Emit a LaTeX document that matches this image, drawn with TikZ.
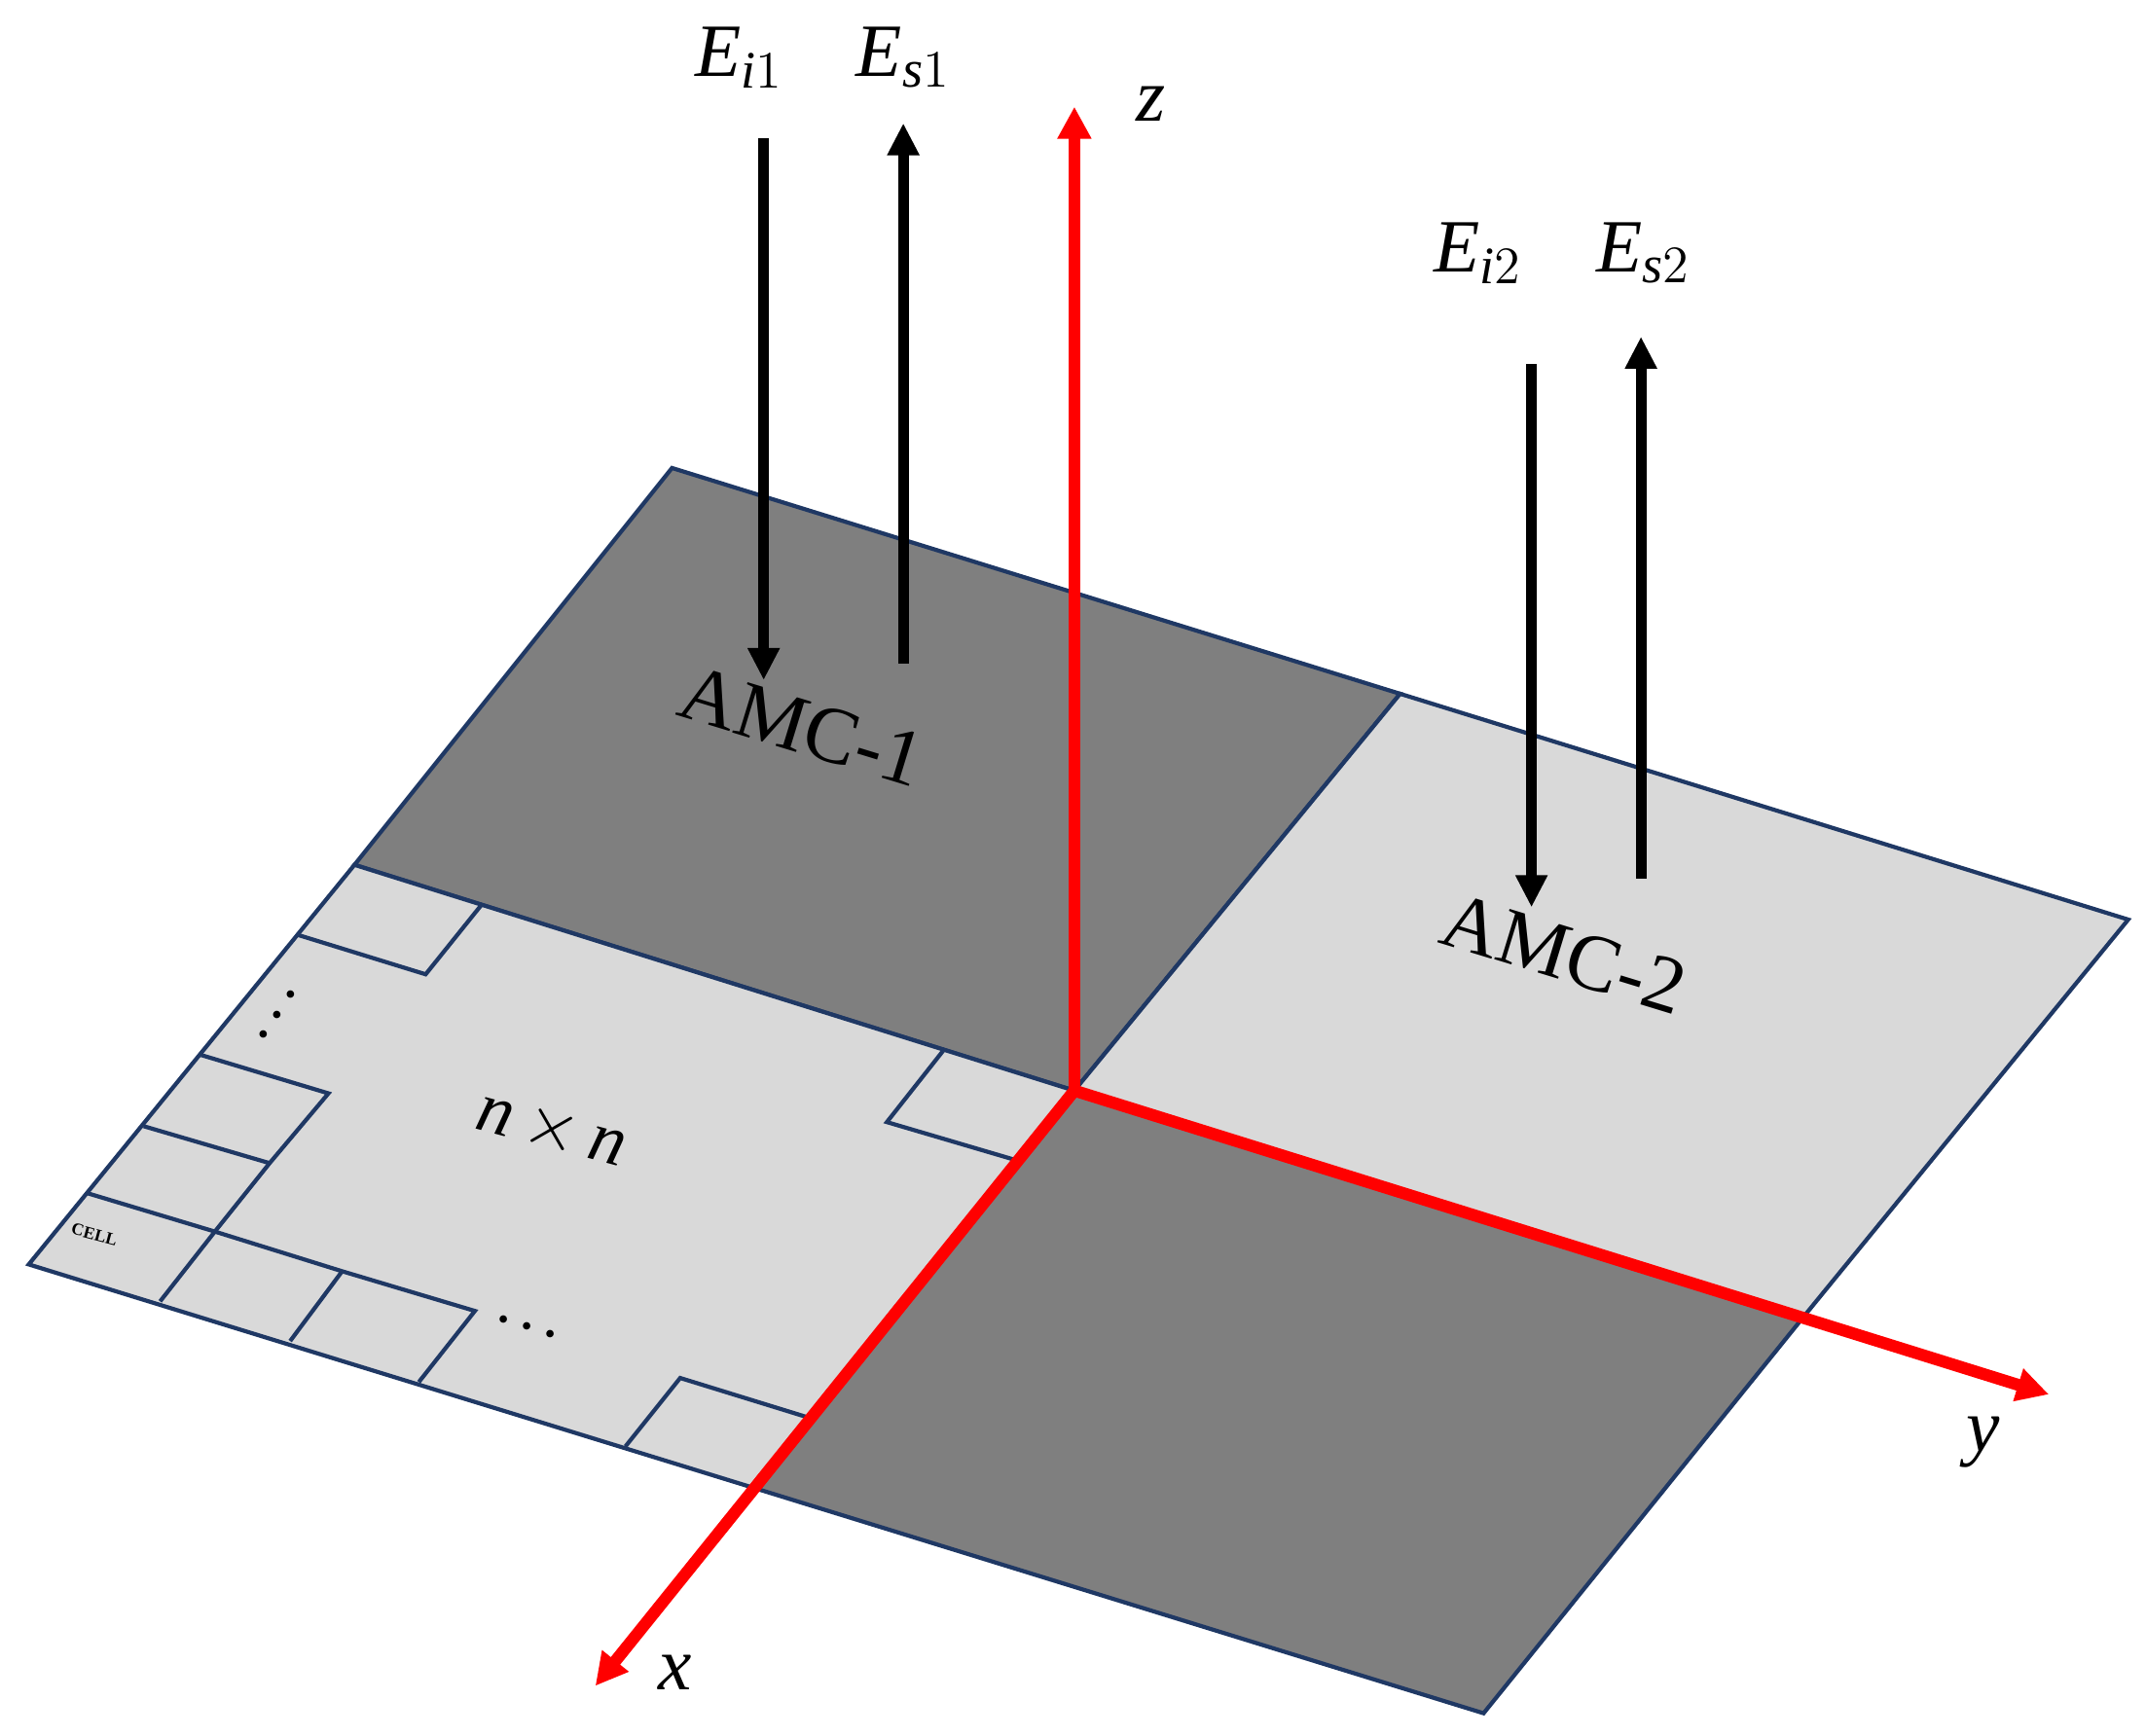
\documentclass[tikz,border=0pt]{standalone}
\usepackage{fontspec}
\usepackage{amsmath}
\usepackage{fix-cm}
\setmainfont{Liberation Serif}
\usepackage{tikz}
\usetikzlibrary{arrows.meta}
\definecolor{plateline}{HTML}{1F3864}
\definecolor{darkamc}{HTML}{7F7F7F}
\definecolor{lightamc}{HTML}{D9D9D9}

\begin{document}
\begin{tikzpicture}
	[x=0.0140625cm, y=-0.0140625cm,
	patch/.style={draw=plateline, line width=1.2pt, line join=miter},
	cellline/.style={draw=plateline, line width=1.2pt},
	axis/.style={draw=red, line width=3.5pt, -{Triangle[width=0.33cm,length=0.33cm]}},
	wave/.style={draw=black, line width=3.1pt, -{Triangle[width=0.31cm,length=0.33cm]}},
	field/.style={font=\fontsize{22}{26}\selectfont, inner sep=0pt},
	axlabel/.style={font=\fontsize{22}{26}\selectfont, inner sep=0pt},
	amc/.style={font=\fontsize{23.5}{28}\selectfont, inner sep=0pt, rotate=-17}]
	\useasboundingbox (0,0) rectangle (1568,1268);
	% plate corners
	\coordinate (top) at (491,342);
	\coordinate (right) at (1555,672);
	\coordinate (bottom) at (1084,1252);
	\coordinate (left) at (21,924);
	\coordinate (mid_t) at (1023,507);
	\coordinate (mid_r) at (1318,962);
	\coordinate (mid_b) at (553,1088);
	\coordinate (mid_l) at (259,632);
	\coordinate (o) at (785,797);
	\path[patch, fill=darkamc] (top) -- (mid_t) -- (o) -- (mid_l) -- cycle;
	\path[patch, fill=lightamc] (mid_t) -- (right) -- (mid_r) -- (o) -- cycle;
	\path[patch, fill=darkamc] (o) -- (mid_r) -- (bottom) -- (mid_b) -- cycle;
	\path[patch, fill=lightamc] (mid_l) -- (o) -- (mid_b) -- (left) -- cycle;
	% unit cells
	\coordinate (l_1) at (64,872);
	\coordinate (l_2) at (105,823);
	\coordinate (l_3) at (147,771);
	\coordinate (l_4) at (217,683);
	\coordinate (b_1) at (117,951);
	\coordinate (b_2) at (212,980);
	\coordinate (b_3) at (306,1010);
	\coordinate (b_4) at (457,1057);
	\coordinate (i_1) at (157,900);
	\coordinate (i_2) at (250,929);
	\coordinate (i_3) at (347,958);
	\coordinate (i_4) at (197,850);
	\coordinate (i_5) at (240,799);
	\coordinate (i_6) at (311,712);
	\coordinate (i_7) at (352,661);
	\coordinate (i_8) at (689,768);
	\coordinate (i_9) at (648,820);
	\coordinate (i_10) at (743,848);
	\coordinate (i_11) at (497,1007);
	\coordinate (i_12) at (591,1036);
	\draw[cellline] (l_1) -- (i_1) -- (i_2) -- (i_3) -- (b_3);
	\draw[cellline] (i_1) -- (b_1);
	\draw[cellline] (i_2) -- (b_2);
	\draw[cellline] (i_1) -- (i_4) -- (i_5) -- (l_3);
	\draw[cellline] (i_4) -- (l_2);
	\draw[cellline] (l_4) -- (i_6) -- (i_7);
	\draw[cellline] (i_8) -- (i_9) -- (i_10);
	\draw[cellline] (b_4) -- (i_11) -- (i_12);
	% axes
	\coordinate (x_tip) at (435,1232);
	\coordinate (y_tip) at (1497,1019);
	\coordinate (z_tip) at (785,78);
	\draw[axis] (o) -- (x_tip);
	\draw[axis] (o) -- (y_tip);
	\draw[axis] (o) -- (z_tip);
	\node[axlabel] (x_label) at (493,1222) {\textit{x}};
	\node[axlabel] (y_label) at (1449,1054) {\textit{y}};
	\node[axlabel] (z_label) at (841,76) {\textit{z}};
	% incident and scattered fields
	\coordinate (i1_a) at (558,101);
	\coordinate (i1_b) at (558,497);
	\coordinate (s1_a) at (660,485);
	\coordinate (s1_b) at (660,90);
	\coordinate (i2_a) at (1119,266);
	\coordinate (i2_b) at (1119,663);
	\coordinate (s2_a) at (1199,642);
	\coordinate (s2_b) at (1199,246);
	\draw[wave] (i1_a) -- (i1_b);
	\draw[wave] (s1_a) -- (s1_b);
	\draw[wave] (i2_a) -- (i2_b);
	\draw[wave] (s2_a) -- (s2_b);
	\node[field] (E_i1) at (540,42) {$\textit{E}_{\textit{i}1}$};
	\node[field] (E_s1) at (660,42) {$\textit{E}_{\textit{s}1}$};
	\node[field] (E_i2) at (1080,185) {$\textit{E}_{\textit{i}2}$};
	\node[field] (E_s2) at (1201,185) {$\textit{E}_{\textit{s}2}$};
	\node[amc] (amc_1) at (586,531) {AMC-1};
	\node[amc] (amc_2) at (1143,697) {AMC-2};
	\node[inner sep=0pt, rotate=-15, font=\fontsize{21}{25}\selectfont] (nxn) at (403,826) {\textit{n}$\,\times\,$\textit{n}};
	\node[inner sep=0pt, rotate=-17, font=\fontsize{14}{18}\selectfont\boldmath] (dots_b) at (388,971) {$\cdots$};
	\node[inner sep=0pt, rotate=55, font=\fontsize{14}{18}\selectfont\boldmath] (dots_l) at (205,739) {$\cdots$};
	\node[inner sep=0pt, rotate=-15, font=\fontsize{5}{6}\selectfont\bfseries] (cell) at (69,902) {CELL};
\end{tikzpicture}
\end{document}
